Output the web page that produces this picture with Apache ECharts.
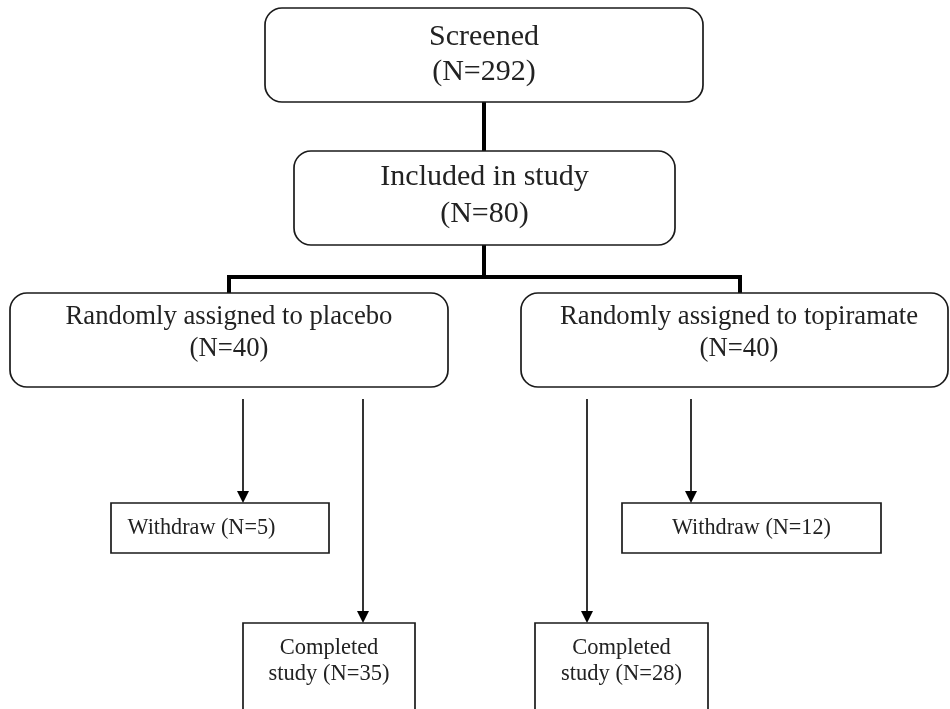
<!DOCTYPE html>
<html>
<head>
<meta charset="utf-8">
<script src="https://cdn.jsdelivr.net/npm/echarts@6/dist/echarts.min.js"></script>
<style>
html,body{margin:0;padding:0;background:#fff;}
#chart{width:950px;height:709px;}
</style>
</head>
<body>
<div id="chart"></div>
<script>
// ---- data ----
const nodeNames = ['Screened', 'Included in study', 'Randomly assigned to placebo', 'Randomly assigned to topiramate', 'Withdraw', 'Completed study', 'Withdraw', 'Completed study'];
const nodeCounts = [292, 80, 40, 40, 5, 35, 12, 28];
// how each node's text is broken into lines
const nodeLines = [
  ['Screened', '(N=292)'],
  ['Included in study', '(N=80)'],
  ['Randomly assigned to placebo', '(N=40)'],
  ['Randomly assigned to topiramate', '(N=40)'],
  ['Withdraw (N=5)'],
  ['Completed', 'study (N=35)'],
  ['Withdraw (N=12)'],
  ['Completed', 'study (N=28)']
];

// ---- layout (in the chart's data units) ----
const nodeBoxes = [
  [265, 8, 703, 102],
  [294, 151, 675, 245],
  [10, 293, 448, 387],
  [521, 293, 948, 387],
  [111, 503, 329, 553],
  [243, 623, 415, 712],
  [622, 503, 881, 553],
  [535, 623, 708, 712]
];
const nodeRounded = [true, true, true, true, false, false, false, false];
const nodeFont = [30, 30, 26.7, 26.7, 22.2, 22.5, 22.2, 22.5];
const nodeTextX = [484, 484.5, 229, 739, 201.5, 329, 751.5, 621.5];
const nodeLineY = [
  [37, 72],
  [177, 214],
  [317, 349],
  [317, 349],
  [528.5],
  [648, 674],
  [528.5],
  [648, 674]
];
const thickLinks = [
  [[484, 102], [484, 151]],
  [[484, 245], [484, 277]],
  [[229, 293], [229, 277], [740, 277], [740, 293]]
];
const arrowLinks = [
  [[243, 399], [243, 503]],
  [[363, 399], [363, 623]],
  [[587, 399], [587, 623]],
  [[691, 399], [691, 503]]
];

const FONT = "'Liberation Serif', 'Times New Roman', serif";
const INK = '#1a1a1a';

const chart = echarts.init(document.getElementById('chart'), null, {renderer: 'canvas'});

const option = {
  animation: false,
  backgroundColor: '#ffffff',
  grid: {left: 0, right: 0, top: 0, bottom: 0},
  xAxis: {type: 'value', min: 0, max: 950, show: false},
  yAxis: {type: 'value', min: 0, max: 709, inverse: true, show: false},
  series: [
    {
      type: 'custom',
      coordinateSystem: 'cartesian2d',
      clip: false,
      data: thickLinks.map((l, i) => [i]),
      renderItem: function (params, api) {
        const pts = thickLinks[params.dataIndex].map(p => api.coord(p));
        return {
          type: 'polyline',
          shape: {points: pts},
          style: {stroke: '#000', lineWidth: 4, fill: null, lineJoin: 'miter'}
        };
      }
    },
    {
      type: 'custom',
      coordinateSystem: 'cartesian2d',
      clip: false,
      data: arrowLinks.map((l, i) => [i]),
      renderItem: function (params, api) {
        const pts = arrowLinks[params.dataIndex].map(p => api.coord(p));
        const end = pts[pts.length - 1];
        const ah = 12, aw = 6;
        return {
          type: 'group',
          children: [
            {
              type: 'polyline',
              shape: {points: [pts[0], [end[0], end[1] - ah + 1]]},
              style: {stroke: '#000', lineWidth: 1.6, fill: null}
            },
            {
              type: 'polygon',
              shape: {points: [[end[0] - aw, end[1] - ah], [end[0] + aw, end[1] - ah], [end[0], end[1]]]},
              style: {fill: '#000', stroke: null}
            }
          ]
        };
      }
    },
    {
      type: 'custom',
      coordinateSystem: 'cartesian2d',
      clip: false,
      data: nodeNames.map((n, i) => [i, nodeCounts[i]]),
      renderItem: function (params, api) {
        const i = params.dataIndex;
        const b = nodeBoxes[i];
        const p0 = api.coord([b[0], b[1]]);
        const p1 = api.coord([b[2], b[3]]);
        const children = [{
          type: 'rect',
          shape: {x: p0[0], y: p0[1], width: p1[0] - p0[0], height: p1[1] - p0[1], r: nodeRounded[i] ? 17 : 0},
          style: {fill: '#fff', stroke: INK, lineWidth: 1.7}
        }];
        nodeLines[i].forEach((t, k) => {
          const c = api.coord([nodeTextX[i], nodeLineY[i][k]]);
          children.push({
            type: 'text',
            x: c[0], y: c[1],
            style: {
              text: t,
              fill: '#222',
              font: nodeFont[i] + 'px ' + FONT,
              align: 'center',
              verticalAlign: 'middle'
            }
          });
        });
        return {type: 'group', children: children};
      }
    }
  ]
};
chart.setOption(option);
</script>
</body>
</html>
